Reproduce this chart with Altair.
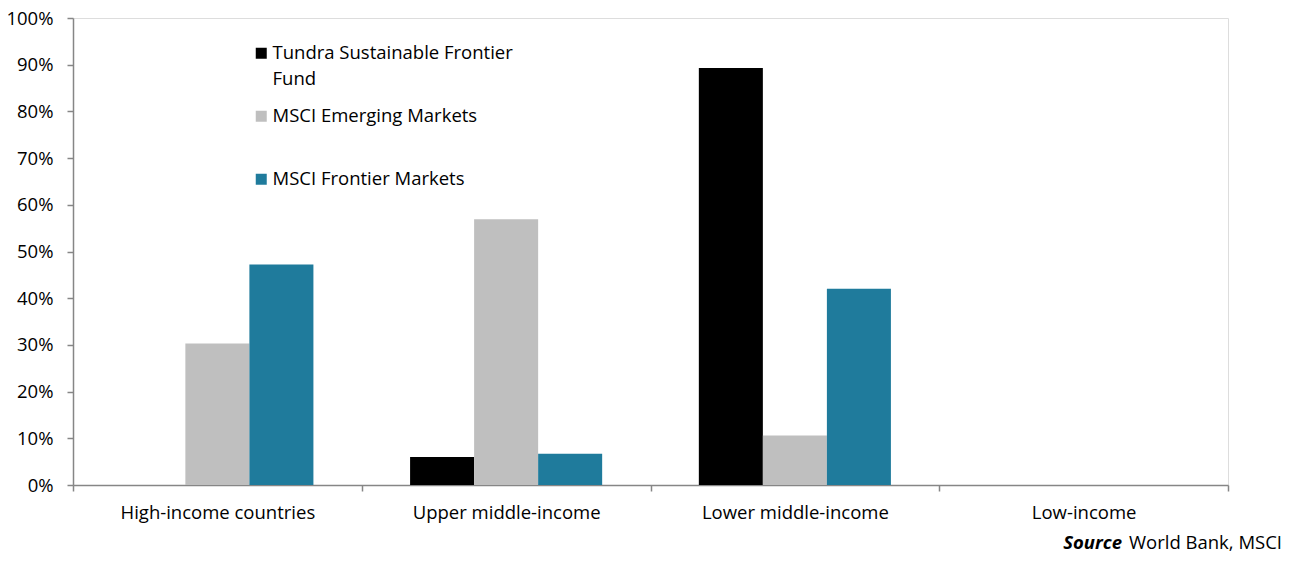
import altair as alt
import pandas as pd

categories = ["High-income countries", "Upper middle-income", "Lower middle-income", "Low-income"]
series = ["Tundra Sustainable Frontier Fund", "MSCI Emerging Markets", "MSCI Frontier Markets"]
tundra = [0.0, 0.060, 0.893, 0.0]
msci_em = [0.303, 0.569, 0.106, 0.0]
msci_fm = [0.472, 0.067, 0.420, 0.0]
colors = ["#000000", "#BFBFBF", "#1F7B9C"]
y_ticks = [0, 0.1, 0.2, 0.3, 0.4, 0.5, 0.6, 0.7, 0.8, 0.9, 1.0]

rows = []
for s, vals in zip(series, [tundra, msci_em, msci_fm]):
    for c, v in zip(categories, vals):
        rows.append({"category": c, "series": s, "value": v})
df = pd.DataFrame(rows)

W, H = 1155, 467
FONT = "Open Sans"
FS = 18.5
AXIS_COLOR = "#868686"

bars = alt.Chart(df).mark_bar().encode(
    x=alt.X(
        "category:N", sort=categories,
        scale=alt.Scale(paddingInner=0, paddingOuter=0),
        axis=alt.Axis(title=None, labelAngle=0, tickBand="extent", grid=False,
                      domainColor=AXIS_COLOR, tickColor=AXIS_COLOR, tickSize=6,
                      domainWidth=1.5, tickWidth=1.5,
                      labelFont=FONT, labelFontSize=FS, labelColor="#000000",
                      labelPadding=12, labelLimit=400),
    ),
    xOffset=alt.XOffset("series:N", sort=series,
                        scale=alt.Scale(paddingInner=0, paddingOuter=0.755)),
    y=alt.Y(
        "value:Q", scale=alt.Scale(domain=[0, 1]),
        axis=alt.Axis(title=None, format=".0%", values=y_ticks, grid=False,
                      domainColor=AXIS_COLOR, tickColor=AXIS_COLOR, tickSize=6,
                      domainWidth=1.5, tickWidth=1.5,
                      labelFont=FONT, labelFontSize=FS, labelColor="#000000",
                      labelPadding=14),
    ),
    color=alt.Color(
        "series:N", sort=series,
        scale=alt.Scale(domain=series, range=colors),
        legend=alt.Legend(
            title=None, orient="none", legendX=179, legendY=26,
            symbolType="square", symbolSize=121, symbolStrokeWidth=0,
            labelFont=FONT, labelFontSize=FS, labelColor="#000000",
            labelOffset=2, rowPadding=18, padding=0, labelLimit=400,
            labelExpr="datum.label == 'Tundra Sustainable Frontier Fund' ? ['Tundra Sustainable Frontier', 'Fund'] : [datum.label, '']",
        ),
    ),
)

src_bold = alt.Chart(pd.DataFrame({"t": ["Source"]})).mark_text(
    font=FONT, fontSize=FS, fontWeight="bold", fontStyle="italic",
    align="right", baseline="middle", color="#000000",
).encode(text="t:N", x=alt.value(1049), y=alt.value(525))

src_text = alt.Chart(pd.DataFrame({"t": ["World Bank, MSCI"]})).mark_text(
    font=FONT, fontSize=FS, align="right", baseline="middle", color="#000000",
).encode(text="t:N", x=alt.value(1209), y=alt.value(525))

chart = alt.layer(bars, src_bold, src_text).properties(
    width=W, height=H,
    autosize=alt.AutoSizeParams(type="none"),
    padding={"left": 65, "top": 10, "right": 62, "bottom": 69},
).configure_view(stroke=None).configure(
    background="white",
    style={"guide-label": {"lineHeight": 26}},
)

chart.save("out.html", embed_options={"renderer": "svg", "actions": False})
